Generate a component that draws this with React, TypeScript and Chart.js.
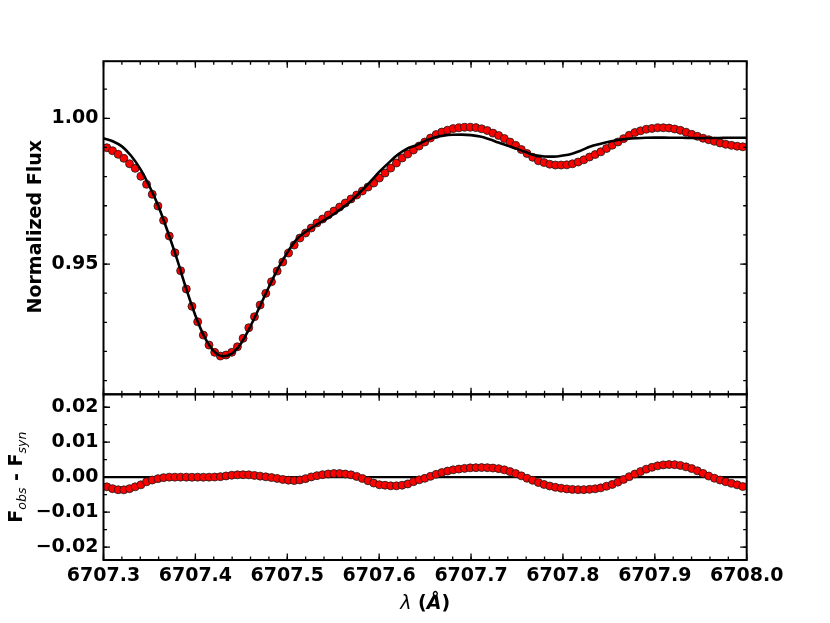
import React, { useEffect, useRef } from 'react';
import { Chart, registerables } from 'chart.js';

Chart.register(...registerables);

// ---- Data ----
// Observed spectrum: uniformly sampled wavelengths
const OBS_WAVE_START = 6707.3036;
const OBS_WAVE_STEP = 0.00618;
const observedFlux = [
  0.98991, 0.98888, 0.98765, 0.98627, 0.98442, 0.98284, 0.98010, 0.97735, 0.97392, 0.96990,
  0.96500, 0.95961, 0.95388, 0.94770, 0.94142, 0.93548, 0.93020, 0.92563, 0.92220, 0.91970,
  0.91843, 0.91877, 0.91970, 0.92162, 0.92450, 0.92814, 0.93192, 0.93593, 0.93995, 0.94393,
  0.94760, 0.95069, 0.95378, 0.95652, 0.95892, 0.96064, 0.96235, 0.96407, 0.96544, 0.96682,
  0.96819, 0.96956, 0.97093, 0.97231, 0.97368, 0.97505, 0.97642, 0.97780, 0.97951, 0.98123,
  0.98294, 0.98466, 0.98638, 0.98775, 0.98912, 0.99049, 0.99187, 0.99324, 0.99444, 0.99530,
  0.99592, 0.99647, 0.99674, 0.99691, 0.99691, 0.99681, 0.99640, 0.99581, 0.99492, 0.99410,
  0.99307, 0.99187, 0.99073, 0.98929, 0.98792, 0.98662, 0.98545, 0.98483, 0.98425, 0.98397,
  0.98397, 0.98404, 0.98439, 0.98500, 0.98576, 0.98672, 0.98758, 0.98850, 0.98964, 0.99077,
  0.99187, 0.99303, 0.99417, 0.99513, 0.99571, 0.99626, 0.99653, 0.99674, 0.99677, 0.99667,
  0.99633, 0.99588, 0.99523, 0.99451, 0.99382, 0.99317, 0.99266, 0.99211, 0.99152, 0.99108,
  0.99073, 0.99043, 0.99022,
];
const residuals = [
  -0.00277, -0.00329, -0.00360, -0.00363, -0.00329, -0.00277, -0.00220, -0.00134, -0.00083, -0.00043,
  -0.00014, 0.00000, 0.00000, 0.00000, 0.00000, -0.00003, 0.00000, -0.00003, 0.00000, 0.00003,
  0.00014, 0.00034, 0.00054, 0.00066, 0.00069, 0.00066, 0.00049, 0.00029, 0.00009, -0.00011,
  -0.00037, -0.00066, -0.00086, -0.00097, -0.00080, -0.00043, 0.00006, 0.00043, 0.00071, 0.00091,
  0.00103, 0.00103, 0.00089, 0.00066, 0.00020, -0.00037, -0.00103, -0.00169, -0.00217, -0.00231,
  -0.00249, -0.00249, -0.00231, -0.00194, -0.00129, -0.00077, -0.00034, 0.00023, 0.00080, 0.00131,
  0.00174, 0.00209, 0.00231, 0.00251, 0.00266, 0.00271, 0.00274, 0.00271, 0.00260, 0.00243,
  0.00209, 0.00160, 0.00103, 0.00037, -0.00031, -0.00091, -0.00154, -0.00209, -0.00254, -0.00291,
  -0.00317, -0.00337, -0.00351, -0.00357, -0.00357, -0.00349, -0.00334, -0.00306, -0.00260, -0.00209,
  -0.00143, -0.00066, 0.00014, 0.00089, 0.00160, 0.00229, 0.00280, 0.00323, 0.00351, 0.00360,
  0.00357, 0.00334, 0.00294, 0.00246, 0.00180, 0.00106, 0.00031, -0.00031, -0.00083, -0.00131,
  -0.00177, -0.00220, -0.00269,
];
// Synthetic spectrum
const SYN_WAVE_START = 6707.3;
const SYN_WAVE_STEP = 0.01;
const syntheticFlux = [
  0.99314, 0.99214, 0.99037, 0.98714, 0.98266, 0.97669, 0.96968, 0.96103, 0.95166, 0.94155,
  0.93232, 0.92490, 0.92010, 0.91835, 0.91929, 0.92293, 0.92870, 0.93535, 0.94212, 0.94851,
  0.95392, 0.95838, 0.96107, 0.96314, 0.96503, 0.96700, 0.96927, 0.97185, 0.97488, 0.97814,
  0.98160, 0.98464, 0.98746, 0.98951, 0.99070, 0.99225, 0.99343, 0.99405, 0.99436, 0.99441,
  0.99423, 0.99377, 0.99280, 0.99167, 0.99055, 0.98952, 0.98833, 0.98728, 0.98691, 0.98685,
  0.98723, 0.98787, 0.98900, 0.99034, 0.99120, 0.99195, 0.99255, 0.99295, 0.99318, 0.99334,
  0.99338, 0.99338, 0.99334, 0.99331, 0.99324, 0.99321, 0.99324, 0.99327, 0.99331, 0.99334,
  0.99334,
];
const zeroLineWave = [6707.3, 6708.0];
const zeroLineValue = [0, 0];

const xTickValues = [6707.3, 6707.4, 6707.5, 6707.6, 6707.7, 6707.8, 6707.9, 6708.0];
const fluxTickValues = [0.95, 1.0];
const residTickValues = [-0.02, -0.01, 0.0, 0.01, 0.02];

const X_MIN = 6707.3, X_MAX = 6708.0;
const FLUX_MIN = 0.9053, FLUX_MAX = 1.0196;
const RES_MIN = -0.0237, RES_MAX = 0.0237;

// ---- helpers ----
const FONT = '"DejaVu Sans", sans-serif';
const range = (a: number, b: number, s: number) => {
  const out: number[] = [];
  const n = Math.round((b - a) / s);
  for (let i = 0; i <= n; i++) out.push(+(a + i * s).toFixed(6));
  return out;
};
const fmtSigned = (v: number, d: number) => {
  const r = +v.toFixed(d);
  if (Math.abs(r) < 1e-12) return (0).toFixed(d);
  return r < 0 ? '\u2212' + Math.abs(r).toFixed(d) : r.toFixed(d);
};

function ticksPlugin(id: string, xMajor: number[], xMinor: number[], yMajor: number[], yMinor: number[]) {
  return {
    id,
    afterDraw(chart: any) {
      const ctx = chart.ctx;
      const { left, right, top, bottom } = chart.chartArea;
      const xs = chart.scales.x, ys = chart.scales.y;
      ctx.save();
      ctx.strokeStyle = '#000';
      ctx.lineWidth = 1.3;
      const vx = (v: number, len: number) => {
        const p = xs.getPixelForValue(v);
        ctx.beginPath();
        ctx.moveTo(p, top); ctx.lineTo(p, top + len);
        ctx.moveTo(p, bottom); ctx.lineTo(p, bottom - len);
        ctx.stroke();
      };
      const vy = (v: number, len: number) => {
        const p = ys.getPixelForValue(v);
        if (p < top - 0.5 || p > bottom + 0.5) return;
        ctx.beginPath();
        ctx.moveTo(left, p); ctx.lineTo(left + len, p);
        ctx.moveTo(right, p); ctx.lineTo(right - len, p);
        ctx.stroke();
      };
      xMinor.forEach((v) => vx(v, 3.5));
      xMajor.forEach((v) => vx(v, 6.5));
      yMinor.forEach((v) => vy(v, 3.5));
      yMajor.forEach((v) => vy(v, 6.5));
      ctx.lineWidth = 2;
      ctx.strokeRect(left, top, right - left, bottom - top);
      ctx.restore();
    },
  };
}

type Part = { t: string; font: string; dy?: number };
function drawParts(ctx: CanvasRenderingContext2D, parts: Part[]) {
  let total = 0;
  const widths = parts.map((p) => {
    ctx.font = p.font;
    const w = ctx.measureText(p.t).width;
    total += w;
    return w;
  });
  let x = -total / 2;
  parts.forEach((p, i) => {
    ctx.font = p.font;
    ctx.fillText(p.t, x, p.dy || 0);
    x += widths[i];
  });
}

export default function App() {
  const topRef = useRef<HTMLCanvasElement>(null);
  const botRef = useRef<HTMLCanvasElement>(null);

  useEffect(() => {
    const obsPoints = observedFlux.map((f, i) => ({ x: OBS_WAVE_START + i * OBS_WAVE_STEP, y: f }));
    const resPoints = residuals.map((r, i) => ({ x: OBS_WAVE_START + i * OBS_WAVE_STEP, y: r }));
    const synPoints = syntheticFlux.map((f, i) => ({ x: SYN_WAVE_START + i * SYN_WAVE_STEP, y: f }));
    const zeroPoints = zeroLineWave.map((w, i) => ({ x: w, y: zeroLineValue[i] }));

    const xMinor = range(X_MIN, X_MAX, 0.02);
    const tickFont = { family: FONT, size: 19, weight: 'bold' as const };

    const pointStyle = {
      showLine: false,
      pointRadius: 4,
      pointBackgroundColor: '#ff0000',
      pointBorderColor: '#1a1a1a',
      pointBorderWidth: 0.8,
    };

    const titleTop = {
      id: 'titleTop',
      afterDraw(chart: any) {
        const ctx = chart.ctx;
        const { top, bottom } = chart.chartArea;
        ctx.save();
        ctx.fillStyle = '#000';
        ctx.textBaseline = 'alphabetic';
        ctx.textAlign = 'left';
        ctx.translate(41, (top + bottom) / 2 - 1);
        ctx.rotate(-Math.PI / 2);
        drawParts(ctx, [{ t: 'Normalized Flux', font: `bold 19px ${FONT}` }]);
        ctx.restore();
      },
    };

    const titleBottom = {
      id: 'titleBottom',
      afterDraw(chart: any) {
        const ctx = chart.ctx;
        const { left, right, top, bottom } = chart.chartArea;
        ctx.save();
        ctx.fillStyle = '#000';
        ctx.textBaseline = 'alphabetic';
        ctx.textAlign = 'left';
        ctx.save();
        ctx.translate(22, (top + bottom) / 2);
        ctx.rotate(-Math.PI / 2);
        drawParts(ctx, [
          { t: 'F', font: `bold 19px ${FONT}` },
          { t: 'obs', font: `italic 12.5px ${FONT}`, dy: 3.5 },
          { t: ' - ', font: `bold 19px ${FONT}` },
          { t: 'F', font: `bold 19px ${FONT}` },
          { t: 'syn', font: `italic 12.5px ${FONT}`, dy: 3.5 },
        ]);
        ctx.restore();
        ctx.translate((left + right) / 2, 609);
        drawParts(ctx, [
          { t: '\u03BB', font: `italic 19px ${FONT}` },
          { t: ' (', font: `bold 19px ${FONT}` },
          { t: '\u00C5', font: `italic bold 19px ${FONT}` },
          { t: ')', font: `bold 19px ${FONT}` },
        ]);
        ctx.restore();
      },
    };

    const topChart = new Chart(topRef.current as HTMLCanvasElement, {
      type: 'scatter',
      data: {
        datasets: [
          {
            label: 'synthetic',
            data: synPoints,
            showLine: true,
            pointRadius: 0,
            borderColor: '#000',
            borderWidth: 2.6,
            cubicInterpolationMode: 'monotone',
          } as any,
          { label: 'observed', data: obsPoints, ...pointStyle } as any,
        ],
      },
      options: {
        responsive: false,
        devicePixelRatio: 1,
        animation: false,
        events: [],
        layout: { padding: { left: 0, right: 83.3, top: 61.2, bottom: 623 - 394.3 } },
        plugins: { legend: { display: false }, tooltip: { enabled: false } },
        scales: {
          x: { type: 'linear', min: X_MIN, max: X_MAX, display: false },
          y: {
            type: 'linear',
            min: FLUX_MIN,
            max: FLUX_MAX,
            grid: { display: false, drawTicks: false },
            border: { display: false },
            ticks: {
              font: tickFont,
              color: '#000',
              padding: 5,
              autoSkip: false,
              callback: (v: any) => Number(v).toFixed(2),
            },
            afterBuildTicks: (s: any) => {
              s.ticks = fluxTickValues.map((v) => ({ value: v }));
            },
            afterFit: (s: any) => {
              s.width = 103.5;
            },
          },
        },
      },
      plugins: [ticksPlugin('ticksTop', xTickValues, xMinor, fluxTickValues, range(0.91, 1.01, 0.01)), titleTop],
    } as any);

    const botChart = new Chart(botRef.current as HTMLCanvasElement, {
      type: 'scatter',
      data: {
        datasets: [
          { label: 'residual', data: resPoints, ...pointStyle } as any,
          {
            label: 'zero',
            data: zeroPoints,
            showLine: true,
            pointRadius: 0,
            borderColor: '#000',
            borderWidth: 2.2,
          } as any,
        ],
      },
      options: {
        responsive: false,
        devicePixelRatio: 1,
        animation: false,
        events: [],
        layout: { padding: { left: 0, right: 83.3, top: 394.3, bottom: 0 } },
        plugins: { legend: { display: false }, tooltip: { enabled: false } },
        scales: {
          x: {
            type: 'linear',
            min: X_MIN,
            max: X_MAX,
            grid: { display: false, drawTicks: false },
            border: { display: false },
            ticks: {
              font: tickFont,
              color: '#000',
              padding: 5,
              autoSkip: false,
              maxRotation: 0,
              minRotation: 0,
              callback: (v: any) => Number(v).toFixed(1),
            },
            afterBuildTicks: (s: any) => {
              s.ticks = xTickValues.map((v) => ({ value: v }));
            },
            afterFit: (s: any) => {
              s.height = 63;
            },
          },
          y: {
            type: 'linear',
            min: RES_MIN,
            max: RES_MAX,
            grid: { display: false, drawTicks: false },
            border: { display: false },
            ticks: {
              font: tickFont,
              color: '#000',
              padding: 5,
              autoSkip: false,
              callback: (v: any) => fmtSigned(Number(v), 2),
            },
            afterBuildTicks: (s: any) => {
              s.ticks = residTickValues.map((v) => ({ value: v }));
            },
            afterFit: (s: any) => {
              s.width = 103.5;
            },
          },
        },
      },
      plugins: [ticksPlugin('ticksBot', xTickValues, xMinor, residTickValues, range(-0.02, 0.02, 0.005)), titleBottom],
    } as any);

    return () => {
      topChart.destroy();
      botChart.destroy();
    };
  }, []);

  const canvasStyle: React.CSSProperties = { position: 'absolute', left: 0, top: 0, width: 830, height: 623 };
  return (
    <div style={{ position: 'fixed', left: 0, top: 0, width: 830, height: 623, background: '#fff' }}>
      <canvas ref={topRef} width={830} height={623} style={canvasStyle} />
      <canvas ref={botRef} width={830} height={623} style={canvasStyle} />
    </div>
  );
}
